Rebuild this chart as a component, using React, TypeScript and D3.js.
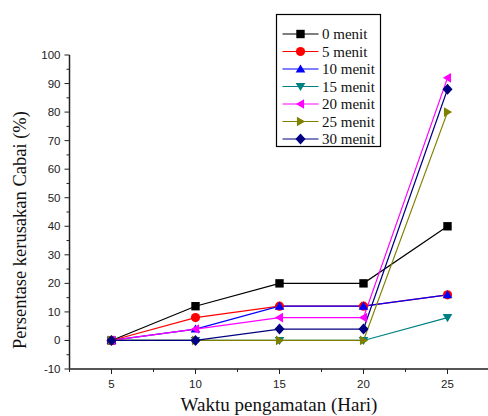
import React from "react";
import * as d3 from "d3";

// days of observation
const days = [5, 10, 15, 20, 25];

// damage percentage per treatment time
const menit0 = [0, 12, 20, 20, 40];
const menit5 = [0, 8, 12, 12, 16];
const menit10 = [0, 4, 12, 12, 16];
const menit15 = [0, 0, 0, 0, 8];
const menit20 = [0, 4, 8, 8, 92];
const menit25 = [0, 0, 0, 0, 80];
const menit30 = [0, 0, 4, 4, 88];

const seriesNames = ["0 menit", "5 menit", "10 menit", "15 menit", "20 menit", "25 menit", "30 menit"];
const seriesValues = [menit0, menit5, menit10, menit15, menit20, menit25, menit30];
const seriesColors = ["#000000", "#ff0000", "#0000ff", "#008080", "#ff00ff", "#808000", "#000080"];
const seriesMarkers = ["square", "circle", "up", "down", "left", "right", "diamond"];

const xTicks = [5, 10, 15, 20, 25];
const yTicks = [-10, 0, 10, 20, 30, 40, 50, 60, 70, 80, 90, 100];

const SERIF = "'Liberation Serif', 'Times New Roman', serif";
const SANS = "'Liberation Sans', Arial, sans-serif";

function markerPath(kind: string, s: number) {
    if (kind === "square") return `M${-s},${-s}h${2 * s}v${2 * s}h${-2 * s}Z`;
    if (kind === "circle") return d3.symbol(d3.symbolCircle, Math.PI * 4.6 * 4.6)() as string;
    if (kind === "up") return `M0,${-s * 1.1}L${s * 1.15},${s * 0.85}L${-s * 1.15},${s * 0.85}Z`;
    if (kind === "down") return `M0,${s * 1.1}L${s * 1.15},${-s * 0.85}L${-s * 1.15},${-s * 0.85}Z`;
    if (kind === "left") return `M${-s * 1.1},0L${s * 0.85},${s * 1.15}L${s * 0.85},${-s * 1.15}Z`;
    if (kind === "right") return `M${s * 1.1},0L${-s * 0.85},${s * 1.15}L${-s * 0.85},${-s * 1.15}Z`;
    return `M0,${-s * 1.3}L${s * 1.2},0L0,${s * 1.3}L${-s * 1.2},0Z`;
}

export default function App() {
    const ref = React.useRef<SVGSVGElement>(null);

    React.useEffect(() => {
        const svg = d3.select(ref.current);
        svg.selectAll("*").remove();

        const x = d3.scaleLinear().domain([2.5, 27.5]).range([69.5, 489.5]);
        const y = d3.scaleLinear().domain([-10, 100]).range([369, 55]);

        // y axis
        const yAxis = svg.append("g").attr("transform", "translate(69.5,0)");
        yAxis.append("line").attr("y1", y(100)).attr("y2", y(-10)).attr("stroke", "#222").attr("stroke-width", 1.5);
        d3.range(-10, 101, 5).forEach((v) => {
            const major = v % 10 === 0;
            yAxis.append("line")
                .attr("x1", 0)
                .attr("x2", major ? -5 : -3)
                .attr("y1", y(v))
                .attr("y2", y(v))
                .attr("stroke", "#222")
                .attr("stroke-width", 1);
        });
        yAxis.selectAll("text.tick")
            .data(yTicks)
            .enter()
            .append("text")
            .attr("x", -9)
            .attr("y", (d) => y(d))
            .attr("dy", "0.35em")
            .attr("text-anchor", "end")
            .style("font-family", SANS)
            .style("font-size", "11.5px")
            .attr("fill", "#222")
            .text((d) => d);

        // x axis
        const xAxis = svg.append("g").attr("transform", "translate(0,369)");
        xAxis.append("line").attr("x1", 69.5).attr("x2", 489).attr("stroke", "#555").attr("stroke-width", 2);
        d3.range(2.5, 27.6, 2.5).forEach((v) => {
            const major = v % 5 === 0;
            xAxis.append("line")
                .attr("x1", x(v))
                .attr("x2", x(v))
                .attr("y1", 0)
                .attr("y2", major ? 5 : 3)
                .attr("stroke", "#222")
                .attr("stroke-width", 1);
        });
        xAxis.selectAll("text.tick")
            .data(xTicks)
            .enter()
            .append("text")
            .attr("x", (d) => x(d))
            .attr("y", 19)
            .attr("text-anchor", "middle")
            .style("font-family", SANS)
            .style("font-size", "11.5px")
            .attr("fill", "#222")
            .text((d) => d);

        // axis titles
        svg.append("text")
            .attr("x", 279)
            .attr("y", 411)
            .attr("text-anchor", "middle")
            .style("font-family", SERIF)
            .style("font-size", "19px")
            .attr("fill", "#111")
            .text("Waktu pengamatan (Hari)");
        svg.append("text")
            .attr("transform", "translate(26,230) rotate(-90)")
            .attr("text-anchor", "middle")
            .style("font-family", SERIF)
            .style("font-size", "18.5px")
            .attr("fill", "#111")
            .text("Persentase kerusakan Cabai (%)");

        // series lines
        const line = d3
            .line<number>()
            .x((d, i) => x(days[i]))
            .y((d) => y(d));

        seriesValues.forEach((vals, si) => {
            svg.append("path")
                .datum(vals)
                .attr("fill", "none")
                .attr("stroke", seriesColors[si])
                .attr("stroke-width", 1.2)
                .attr("d", line);
        });
        seriesValues.forEach((vals, si) => {
            svg.append("g")
                .selectAll("path")
                .data(vals)
                .enter()
                .append("path")
                .attr("transform", (d, i) => `translate(${x(days[i])},${y(d)})`)
                .attr("d", markerPath(seriesMarkers[si], 4.2))
                .attr("fill", seriesColors[si]);
        });

        // legend
        const legend = svg.append("g").attr("transform", "translate(276.5,14.5)");
        legend.append("rect")
            .attr("width", 104)
            .attr("height", 132)
            .attr("fill", "white")
            .attr("stroke", "#000")
            .attr("stroke-width", 1.2);
        seriesNames.forEach((name, si) => {
            const ly = 19.5 + si * 17.5;
            legend.append("line")
                .attr("x1", 6)
                .attr("x2", 42)
                .attr("y1", ly)
                .attr("y2", ly)
                .attr("stroke", seriesColors[si])
                .attr("stroke-width", 1.2);
            legend.append("path")
                .attr("transform", `translate(24,${ly})`)
                .attr("d", markerPath(seriesMarkers[si], 4.2))
                .attr("fill", seriesColors[si]);
            legend.append("text")
                .attr("x", 45.5)
                .attr("y", ly)
                .attr("dy", "0.35em")
                .style("font-family", SERIF)
                .style("font-size", "15px")
                .attr("fill", "#111")
                .text(name);
        });
    }, []);

    return (
        <svg
            ref={ref}
            width={488}
            height={416}
            style={{ position: "absolute", left: 0, top: 0, background: "white" }}
        />
    );
}
